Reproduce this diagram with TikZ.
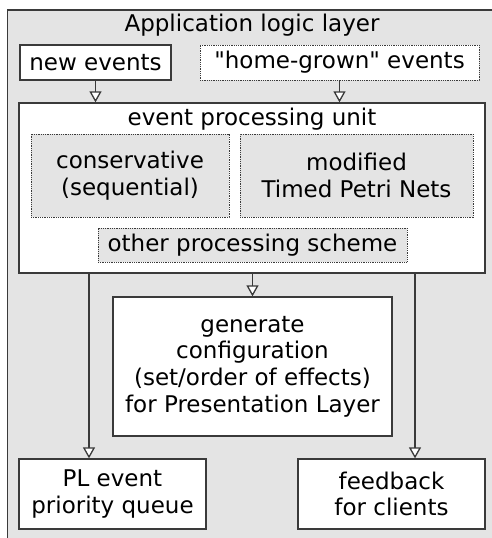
\documentclass[tikz,border=0pt]{standalone}
\usepackage{fontspec}
\setmainfont{DejaVu Sans}[Ligatures=TeXOff]
\usetikzlibrary{arrows.meta}
\definecolor{bggray}{HTML}{E4E4E4}
\definecolor{linegray}{HTML}{3A3A3A}
\tikzset{
  txt/.style={font=\fontsize{23}{26.7}\selectfont},
  box/.style={draw=linegray, line width=1.3pt, fill=white, align=center, inner sep=0pt, txt},
  dotbox/.style={box, line width=0.8pt, dash pattern=on 0.9pt off 0.9pt},
  flow/.style={draw=linegray, line width=1.3pt, -{Triangle[fill=white, width=12pt, length=11pt]}}
}
\begin{document}
\begin{tikzpicture}[x=1pt,y=-1pt]
\useasboundingbox (0,0) rectangle (492,538);
\clip (0,0) rectangle (492,538);
\draw[draw=linegray, line width=1.3pt, fill=bggray] (7.5,10) rectangle (500,545);
\node[txt, anchor=base] (title) at (252,31.7) {Application logic layer};
\node[box, minimum width=151pt, minimum height=35pt] (newev) at (95.5,62.5) {new events};
\node[dotbox, minimum width=279pt, minimum height=35pt] (home) at (339.5,62.5) {"home-grown" events};
\node[box, minimum width=466pt, minimum height=170pt] (epu) at (252,188) {};
\node[txt, anchor=base] (epulabel) at (252,125) {event processing unit};
\node[dotbox, fill=bggray, minimum width=198pt, minimum height=83pt] (cons) at (130,175.5) {conservative\\(sequential)};
\node[dotbox, fill=bggray, minimum width=233pt, minimum height=83pt] (mod) at (356.5,175.5) {modified\\Timed Petri Nets};
\node[dotbox, fill=bggray, minimum width=309pt, minimum height=34pt] (other) at (252.5,245) {other processing scheme};
\node[box, minimum width=279pt, minimum height=139pt] (gen) at (252.5,366.5) {generate\\configuration\\(set/order of effects)\\for Presentation Layer};
\node[box, minimum width=187pt, minimum height=70pt] (pl) at (112.5,494) {PL event\\priority queue};
\node[box, minimum width=187pt, minimum height=70pt] (fb) at (391.5,494) {feedback\\for clients};
\draw[flow] (newev.south) -- (newev.south |- epu.north);
\draw[flow] (home.south) -- (home.south |- epu.north);
\draw[flow] (epu.south -| gen.north) -- (gen.north);
\draw[flow] (epu.south -| 89,0) -- (pl.north -| 89,0);
\draw[flow] (epu.south -| 415,0) -- (fb.north -| 415,0);
\end{tikzpicture}
\end{document}
